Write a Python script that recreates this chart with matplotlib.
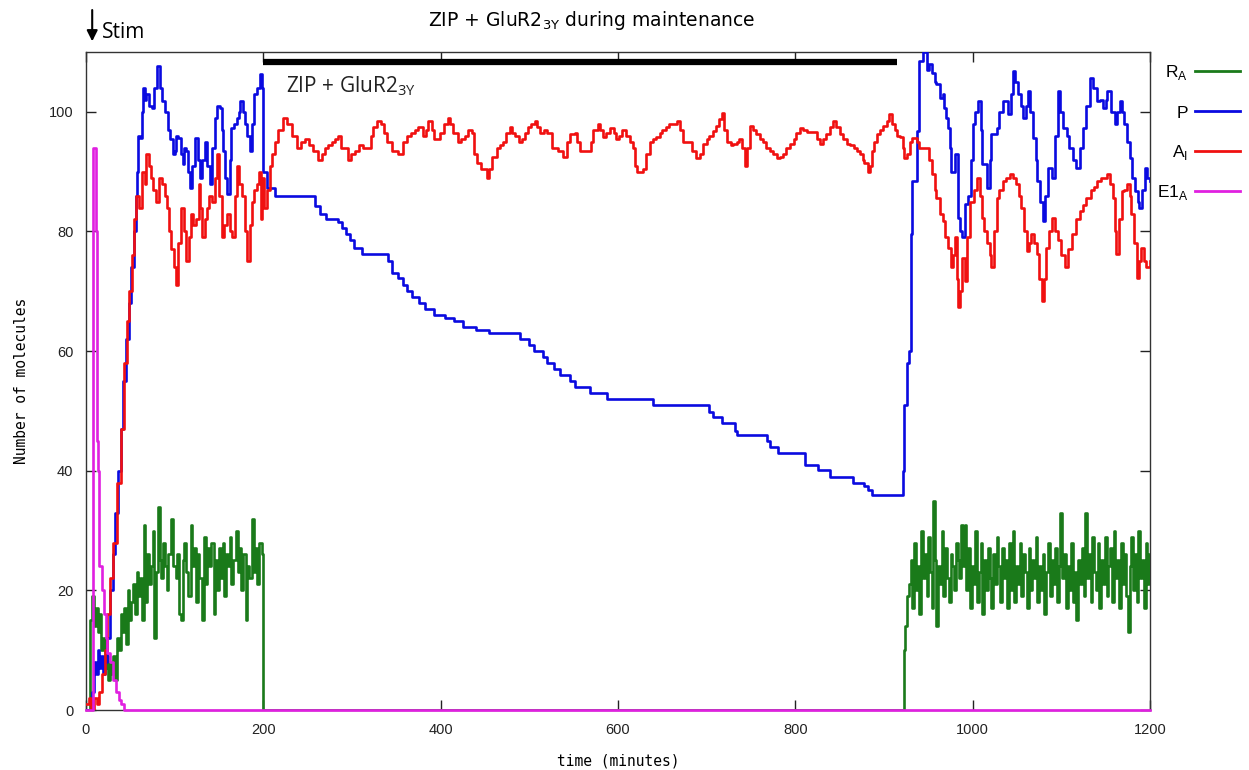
import matplotlib
matplotlib.use("Agg")
import matplotlib.pyplot as plt
from matplotlib.lines import Line2D

# ---------------- data ----------------
# R_A (green)
ra_t = [0, 3, 5, 7, 9, 11, 13, 15, 17, 19, 21, 23, 25, 27, 29, 31, 33, 35, 37, 39, 41, 43, 45, 47, 49,
        51, 53, 55, 57, 59, 61, 63, 65, 67, 69, 71, 73, 75, 77, 79, 81, 83, 85, 87, 89, 91, 93, 96, 98,
        101, 103, 105, 107, 109, 111, 113, 115, 118, 120, 122, 124, 126, 128, 131, 133, 135, 137, 139,
        141, 144, 146, 148, 150, 152, 154, 156, 158, 160, 162, 164, 166, 169, 171, 173, 175, 177, 180,
        182, 184, 187, 189, 191, 193, 195, 198, 200,
        921, 922, 924, 926, 928, 930, 932, 934, 936, 938, 940, 942, 944, 946, 948, 950, 952, 954, 955,
        957, 959, 961, 963, 965, 967, 969, 971, 973, 975, 977, 979, 981, 983, 985, 987, 989, 991, 993,
        995, 997, 999, 1001, 1003, 1005, 1007, 1009, 1011, 1013, 1015, 1017, 1019, 1021, 1023, 1025,
        1027, 1029, 1031, 1033, 1035, 1037, 1039, 1041, 1043, 1045, 1047, 1049, 1051, 1053, 1055, 1057,
        1059, 1061, 1063, 1065, 1067, 1069, 1071, 1073, 1075, 1077, 1079, 1081, 1083, 1085, 1087, 1089,
        1091, 1093, 1095, 1097, 1099, 1101, 1103, 1105, 1107, 1109, 1111, 1113, 1115, 1117, 1119, 1121,
        1123, 1125, 1127, 1129, 1131, 1133, 1135, 1137, 1139, 1141, 1143, 1145, 1147, 1149, 1151, 1153,
        1155, 1157, 1159, 1161, 1163, 1165, 1167, 1169, 1171, 1173, 1175, 1177, 1179, 1181, 1183, 1185,
        1187, 1189, 1191, 1193, 1195, 1197, 1199, 1200]
ra_v = [0, 0, 15, 19, 14, 17, 13, 16, 10, 12, 7, 9, 5, 8, 6, 9, 5, 12, 10, 16, 13, 17, 11, 20, 15,
        18, 21, 16, 23, 19, 22, 15, 31, 18, 26, 21, 24, 30, 12, 23, 34, 25, 22, 28, 24, 20, 26, 32, 24,
        22, 26, 16, 15, 25, 28, 23, 19, 31, 24, 27, 18, 26, 22, 15, 29, 21, 27, 24, 28, 16, 25, 20, 27,
        22, 28, 19, 26, 24, 29, 21, 25, 30, 23, 27, 20, 26, 15, 24, 22, 32, 23, 27, 21, 28, 26, 0,
        0, 10, 14, 19, 21, 25, 17, 28, 20, 24, 16, 30, 22, 26, 19, 29, 23, 17, 35,
        25, 14, 24, 21, 30, 19, 27, 22, 18, 26, 24, 20, 28, 25, 22, 31, 24, 31, 20,
        27, 17, 24, 21, 30, 18, 23, 28, 16, 25, 20, 27, 22, 17, 26, 21,
        29, 24, 18, 27, 22, 25, 17, 28, 20, 30, 18, 24, 21, 28, 19, 26,
        23, 17, 27, 20, 25, 22, 29, 18, 24, 20, 26, 16, 23, 28, 19, 25,
        21, 27, 18, 24, 33, 22, 26, 17, 24, 20, 28, 18, 23, 15, 25, 21,
        27, 19, 33, 22, 26, 18, 29, 23, 20, 28, 17, 25, 21, 29, 19, 24,
        27, 18, 30, 22, 25, 17, 28, 21, 26, 19, 13, 24, 29, 20, 26, 18,
        30, 22, 25, 17, 28, 21, 26, 24]

# P (blue)
p_t = [0, 4, 7, 9, 11, 13, 15, 17, 19, 21, 24, 27, 30, 33, 36, 39, 42, 45, 48, 51, 54, 56, 58, 59,
       61, 63, 64, 66, 68, 71, 74, 77, 80, 83, 86, 89, 91, 93, 95, 98, 100, 102, 104, 107, 109, 111,
       113, 115, 117, 120, 123, 126, 129, 131, 134, 137, 140, 142, 145, 148, 151, 153, 155, 157, 159,
       162, 164, 167, 170, 172, 174, 177, 179, 182, 185, 187, 190, 193, 196, 198, 200, 204,
       213, 258, 264, 271, 284, 289, 293, 298, 302, 311, 341, 345, 352, 357, 362, 368, 375, 382, 392,
       405, 415, 425, 440, 455, 490, 500, 505, 515, 520, 528, 535, 546, 551, 568, 588, 639, 703, 707,
       717, 732, 734, 768, 771, 780, 811, 825, 839, 865, 878, 882, 886,
       921, 923, 926, 928, 930, 931, 932, 937, 940, 944, 948, 951, 954, 957, 959, 963, 966, 968, 970,
       972, 974, 976, 980, 983, 986, 988, 991, 995, 998, 1000, 1003, 1006, 1009, 1011, 1016, 1019,
       1021, 1027, 1030, 1034, 1040, 1043, 1045, 1048, 1051, 1054, 1057, 1060, 1062, 1065, 1068, 1071,
       1073, 1076, 1079, 1082, 1085, 1090, 1093, 1096, 1099, 1102, 1106, 1109, 1113, 1117, 1121, 1124,
       1128, 1132, 1136, 1140, 1144, 1147, 1150, 1152, 1156, 1160, 1163, 1166, 1168, 1171, 1174, 1177,
       1180, 1183, 1186, 1188, 1191, 1194, 1197, 1200]
p_v = [0, 0, 3, 8, 6, 10, 7, 9, 6, 8, 12, 20, 26, 33, 40, 47, 55, 62, 68, 74, 80, 86, 90, 96,
       95.7, 100, 104, 102, 103, 101, 100.7, 104, 107.7, 104, 101.8, 100, 100, 97, 95.5, 93, 93.5, 96,
       95.7, 93, 91.3, 94, 93.5, 90, 87.3, 91, 95.7, 92, 89, 92, 95, 91, 88, 94, 99, 101, 100.7, 97,
       93.5, 89, 86.3, 92, 97.3, 98, 99, 100, 101.8, 100, 98, 96, 93.5, 98, 103, 104, 106.3, 104, 90,
       87.3, 86, 84.3, 83, 82, 81.5, 80.5, 79.6, 78.5, 77.3, 76.3, 75, 73, 72.3, 71, 70, 69, 68, 67,
       66, 65.5, 65, 64, 63.5, 63, 62, 61, 60, 59, 58, 57, 56, 55, 54, 53, 52, 51, 49.8, 49, 48,
       46.7, 46, 45, 44, 43, 41, 40.2, 39, 38, 37.4, 36.7, 36,
       40, 51, 58, 60, 75, 79.6, 88.5, 96.8, 108.5, 110, 107, 108, 106.5, 105, 104.7, 102.3, 103,
       100.7, 99, 97.3, 94, 90, 93, 82.3, 80, 79, 84.6, 86, 92, 98, 100, 101.8, 97, 91.3, 87.3, 92,
       96.3, 97.3, 100, 101.8, 99.6, 103, 106.8, 105, 103, 101, 99, 101, 103.5, 100, 95.7, 92, 88.5,
       85, 81.8, 86, 90.6, 89, 96, 103.5, 100, 97.3, 96, 94, 92, 90.6, 94, 97.3, 101, 105.7, 104,
       101.8, 102, 100.7, 102, 103.5, 100, 98, 100, 101.8, 100, 98, 95, 92.3, 89, 86.8, 85, 84, 87,
       90.6, 89, 88.5]

# A_I (red)
ai_t = [0, 3, 6, 9, 12, 15, 18, 21, 24, 27, 31, 35, 39, 43, 46, 49, 52, 54, 56, 60, 63, 66, 68, 71,
        73, 76, 79, 82, 86, 89, 91, 94, 96, 99, 101, 104, 107, 110, 113, 116, 118, 121, 124, 127, 129,
        131, 134, 136, 139, 142, 145, 148, 150, 153, 156, 159, 162, 165, 168, 170, 173, 176, 179, 182,
        185, 187, 190, 193, 195, 197, 199, 201, 204, 207, 210, 213, 217, 222, 227, 232, 238, 242, 247,
        252, 256, 262, 266, 269, 273, 277, 281, 284, 288, 295, 299, 303, 308, 312, 318, 321, 324, 328,
        333, 336, 339, 345, 352, 357, 362, 367, 371, 374, 380, 383, 386, 390, 393, 399, 404, 408, 411,
        414, 419, 423, 427, 431, 435, 438, 441, 446, 452, 455, 458, 463, 467, 470, 474, 478, 481, 484,
        488, 492, 495, 498, 502, 506, 509, 512, 516, 520, 525, 532, 538, 543, 546, 551, 554, 557, 565,
        569, 572, 577, 580, 583, 587, 591, 595, 598, 601, 605, 609, 613, 617, 619, 621, 628, 632, 636,
        640, 643, 647, 650, 654, 658, 662, 666, 670, 673, 681, 684, 688, 692, 696, 700, 703, 707, 711,
        714, 717, 720, 723, 727, 730, 734, 737, 740, 743, 746, 749, 752, 756, 760, 763, 767, 771, 775,
        779, 783, 786, 790, 794, 798, 801, 805, 809, 813, 817, 820, 824, 828, 831, 835, 839, 842, 846,
        850, 854, 858, 862, 866, 870, 873, 876, 878, 882, 884, 886, 889, 892, 896, 899, 903, 906, 909,
        912, 915, 918, 921, 923, 926, 929, 932, 937, 940, 944, 948, 951, 954, 957, 959, 963, 966, 969,
        972, 976, 978, 980, 982, 983, 986, 988, 991, 994, 997, 1001, 1005, 1008, 1010, 1013, 1016, 1019,
        1021, 1024, 1027, 1030, 1034, 1038, 1042, 1045, 1049, 1052, 1055, 1058, 1061, 1064, 1066, 1069,
        1072, 1075, 1078, 1081, 1083, 1086, 1089, 1093, 1096, 1100, 1104, 1108, 1112, 1116, 1121, 1124,
        1128, 1133, 1137, 1140, 1145, 1151, 1155, 1158, 1160, 1162, 1165, 1168, 1171, 1174, 1177, 1179,
        1182, 1185, 1188, 1190, 1193, 1196, 1200]
ai_v = [1, 2, 0, 2, 1, 3, 6, 10, 16, 22, 28, 38, 47, 58, 65, 70, 76, 82, 86, 84, 90, 88, 93, 91,
        89, 87, 85, 89, 88, 86, 84, 80, 77, 74, 71, 78, 84, 80, 75, 79, 83, 81, 82, 88, 84,
        79, 82, 84, 86, 85, 89, 93, 86, 79, 81, 83, 80, 79, 86, 91, 88, 86, 80, 75,
        81, 85, 87, 88, 90, 82, 89, 84, 87, 91, 93, 95, 97, 99, 98, 96, 94, 95, 95.5,
        94.5, 93.5, 92, 93, 94, 94.5, 95, 95.5, 96, 94, 92, 93, 93.5, 94.5, 94, 94, 96, 97.5, 98.5,
        98, 96.5, 95, 93.5, 93, 95, 96, 96.5, 97, 97.5, 96, 97, 98.5, 97, 95.5, 96.5, 98, 99, 98,
        96.5, 95, 95.5, 96, 97, 96.5, 93, 91.5, 90.5, 89, 90.5, 92.5, 94, 94.5, 95, 96.5, 97.5, 96.5, 96,
        95, 95.5, 96.5, 97.5, 98, 98.5, 97.5, 96.5, 97, 96.5, 94, 93.5, 92.5, 95, 96.3, 96.5, 95, 93.5, 93.5,
        95, 97, 98, 97, 95.8, 96.5, 97.3, 96.5, 95.5, 96, 97, 96, 95, 94, 91, 90, 90.5, 93, 95,
        95.5, 95.8, 96.5, 97, 97.5, 98, 98, 98.5, 97, 95, 95, 93.5, 92.3, 93, 94.7, 95.5, 96, 96.8, 97.6,
        98.8, 99.8, 97, 95, 94.5, 94.7, 95, 95.5, 94, 91, 94, 97.6, 97, 96.3, 95.5, 95, 94, 93.5, 93,
        92.3, 92.5, 93, 94, 94.7, 95.5, 96.5, 97.3, 97, 96.6, 96.6, 96.6, 95.5, 94.7, 95.5, 96.3, 97.5, 98.5, 97.5,
        96.3, 95.5, 94.7, 94.5, 94, 93.5, 93, 92, 91.5, 90, 91, 93.5, 95, 96.3, 97, 97.6, 98.5, 99.6, 98,
        97, 96, 95.8, 94, 92.3, 93, 95, 95.7, 95, 94, 94, 94, 92, 89.6, 87, 85.6, 83, 81.8, 79,
        77.3, 74, 76, 79, 72, 67.3, 70, 75.6, 71.8, 79, 85, 87, 89, 86, 82.3, 80, 78, 76,
        74, 80, 85.6, 87, 88.5, 89, 89.6, 89, 88, 86, 84, 80, 76.8, 78, 79.6, 78,
        76.3, 72, 68.4, 72, 77.3, 80, 82.3, 80, 78.5, 76, 74, 77, 79.6, 82, 83.5, 84.5,
        85.6, 87, 87.5, 88.5, 89, 89.6, 88, 85.6, 80, 76.3, 82, 86.8, 87, 88, 86, 83,
        78, 72.3, 75, 77.3, 75, 74, 75]

# E1_A (magenta)
e1_t = [0, 6, 8, 11, 12, 14, 15, 18, 20, 22, 24, 27, 31, 34, 37, 40, 43, 1200]
e1_v = [0, 0, 94, 80, 45, 40, 24, 20, 16, 12, 9.5, 8, 5, 3, 1.7, 1, 0, 0]

series_names = ["R$_{\\mathregular{A}}$", "P", "A$_{\\mathregular{I}}$", "E1$_{\\mathregular{A}}$"]
series_colors = ["#1a7a1a", "#0a0ae0", "#f01010", "#e020e0"]

# treatment bar (ZIP + GluR2_3Y) and stimulus time
bar_t = [200, 915]
bar_level = 108.3
stim_time = 7

x_ticks = [0, 200, 400, 600, 800, 1000, 1200]
y_ticks = [0, 20, 40, 60, 80, 100]

# ---------------- figure ----------------
W, H = 1249, 770
fig = plt.figure(figsize=(W / 100, H / 100), dpi=100)
ax = fig.add_axes([86 / W, 1 - 710 / H, (1150 - 86) / W, (710 - 52) / H])

tick_font = {"family": "Liberation Sans", "size": 10.5}
lw = 1.9
ax.plot(ra_t, ra_v, drawstyle="steps-post", color=series_colors[0], lw=lw, zorder=3)
ax.plot(p_t, p_v, drawstyle="steps-post", color=series_colors[1], lw=lw, zorder=3)
ax.plot(ai_t, ai_v, drawstyle="steps-post", color=series_colors[2], lw=lw, zorder=3)
ax.plot(e1_t, e1_v, drawstyle="steps-post", color=series_colors[3], lw=lw, zorder=3, clip_on=False)

ax.plot(bar_t, [bar_level, bar_level], color="black", lw=4.5, solid_capstyle="butt", zorder=4)
ax.text(225, 104.2, "ZIP + GluR2$_{\\mathregular{3Y}}$", fontsize=15, family="Open Sans",
        ha="left", va="center", color="#222222")

ax.set_xlim(0, 1200)
ax.set_ylim(0, 110)
ax.set_xticks(x_ticks)
ax.set_yticks(y_ticks)
ax.set_xticklabels([str(v) for v in x_ticks], fontdict=tick_font)
ax.set_yticklabels([str(v) for v in y_ticks], fontdict=tick_font)
ax.tick_params(direction="in", length=7, width=1, top=True, right=True, pad=9, colors="#222222")
for s in ax.spines.values():
    s.set_linewidth(1.0)
    s.set_color("#333333")

ax.set_xlabel("time (minutes)", family="DejaVu Sans Mono", fontsize=10.5, labelpad=12)
ax.set_ylabel("Number of molecules", family="DejaVu Sans Mono", fontsize=10.5, labelpad=14)

# title
fig.text(592 / W, 1 - 20 / H, "ZIP + GluR2$_{\\mathregular{3Y}}$ during maintenance",
         family="DejaVu Sans", fontsize=13.5, ha="center", va="center")

# stim arrow
ax.annotate("", xy=(stim_time, 1.012), xycoords=("data", "axes fraction"),
            xytext=(stim_time, 1.068), textcoords=("data", "axes fraction"),
            arrowprops=dict(arrowstyle="-|>", color="black", lw=1.5, mutation_scale=16))
ax.text(stim_time + 11, 1.030, "Stim", transform=ax.get_xaxis_transform(), family="Open Sans",
        fontsize=15, ha="left", va="center", clip_on=False)

# legend (outside, right)
leg_y = [71, 111, 151, 191]
for name, col, py in zip(series_names, series_colors, leg_y):
    fig.text(1188 / W, 1 - (py + 2) / H, name, family="Liberation Sans", fontsize=12.5,
             ha="right", va="center")
    fig.add_artist(Line2D([1195 / W, 1240 / W], [1 - py / H, 1 - py / H], color=col, lw=2,
                          transform=fig.transFigure))

fig.savefig("out.png", dpi=100)
